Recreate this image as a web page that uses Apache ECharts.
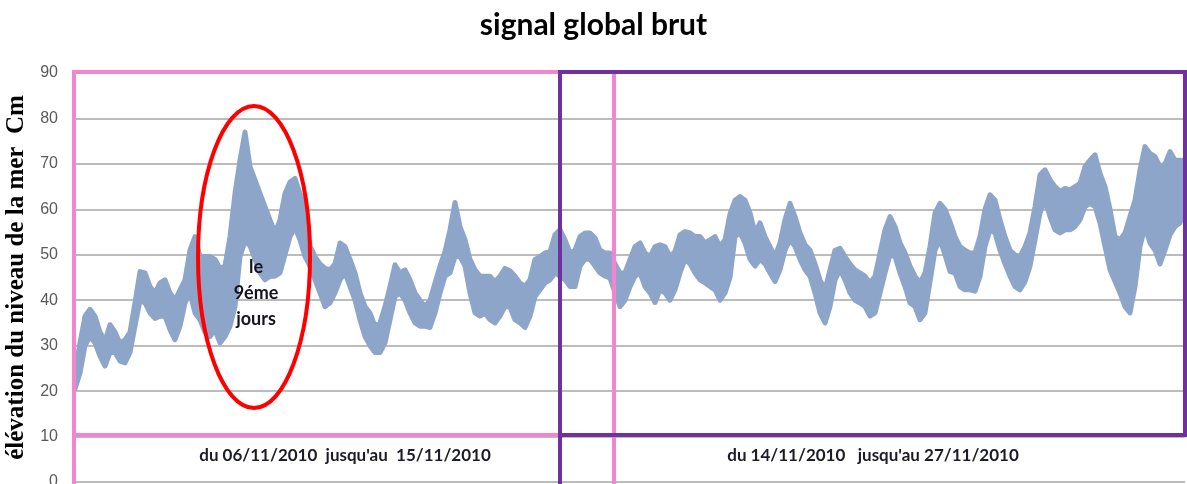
<!DOCTYPE html>
<html>
<head>
<meta charset="utf-8">
<script src="https://cdn.jsdelivr.net/npm/echarts@6/dist/echarts.min.js"></script>
<style>
  html, body { margin: 0; padding: 0; background: #fff; }
  #chart { width: 1187px; height: 484px; }
</style>
</head>
<body>
<div id="chart"></div>
<script>
// Sea-level elevation (cm): lower and upper envelope of the raw signal, one pair per sample
const lowValues = [
  20.5, 24, 30, 32, 30.6, 27.7, 25.5, 28.5, 28.5, 26.6,
  26.2, 28.5, 34.3, 40, 39.4, 37.2, 36, 36.5, 36.5, 33.5,
  31.3, 34.3, 39.4, 41.6, 37.2, 35.7, 33, 32, 33.5, 30.6,
  32, 34.3, 38.6, 49.6, 53, 52, 49, 46, 44.5, 45.3,
  45.3, 46, 50, 54, 56, 53.3, 49.6, 47.5, 44.5, 41.6,
  38.6, 39.4, 41.6, 44.5, 46, 43, 40, 35.7, 32, 30,
  28.5, 28.5, 30.6, 35.7, 40.8, 41.6, 40, 37.2, 35, 34.3,
  34.3, 34, 37.2, 41.6, 45.3, 46, 49.6, 49.6, 47.5, 41.6,
  37.2, 36.5, 37.2, 35.7, 35, 36.5, 38.6, 38.5, 35.7, 35,
  34, 36.5, 40.8, 42.3, 43.8, 44.5, 46, 45.3, 44.5, 43,
  43, 47.5, 49, 49, 47.5, 46, 45.3, 44.9, 41.6, 38.6,
  40, 43, 45.3, 46, 43, 41.6, 39.5, 42.3, 41.6, 40,
  42.3, 46, 49, 48, 46, 44.5, 43.8, 43, 42.3, 40,
  41.6, 45, 54, 54.8, 52.6, 49, 47.5, 49, 48, 46,
  44.1, 46.7, 51, 53.3, 51.8, 49, 46.7, 45.3, 41.6, 37.2,
  35, 38.6, 44.5, 46.7, 44.5, 41.6, 40, 39.4, 38.6, 36.5,
  37.2, 41.6, 46, 50, 49.6, 46, 43, 39.4, 38.6, 35.7,
  37.2, 44.1, 51, 53.3, 50, 46.3, 46, 43, 42.3, 42.3,
  42, 45.3, 51.8, 55.5, 54.8, 51, 48, 45.3, 43, 42.3,
  44.1, 47.5, 53.3, 59.2, 62, 58.4, 55.5, 54.8, 55.5, 55.5,
  56.2, 57.7, 60.6, 61.3, 60.6, 57, 51.8, 46.7, 44.1, 41.6,
  38.6, 37.2, 43, 51.8, 56.2, 52.6, 51, 48, 51, 54.4,
  56.2, 57, 60
];
const highValues = [
  24, 30.6, 36.5, 38, 36.5, 33, 31, 34.6, 33, 30.6,
  31.3, 33, 39.4, 46.3, 46, 43, 41.6, 43.8, 44.5, 41.6,
  40, 42.3, 44.5, 51, 54, 49.6, 49.6, 49.6, 49, 47,
  47.5, 54, 63.5, 70.8, 77, 69.4, 66.5, 63.5, 60.6, 57.7,
  54.8, 57.7, 63.5, 66, 66.8, 63.5, 60, 52, 49.6, 48,
  47, 46.7, 48, 52.6, 51.8, 49, 46, 41.6, 38.6, 37.2,
  34.3, 35, 38.6, 43, 47.8, 46, 46.7, 44.5, 41.6, 40,
  38.6, 40, 43.8, 47.5, 50.7, 55.5, 61.5, 56.2, 53.3, 49,
  46.7, 45.3, 45.3, 45.3, 44.1, 45.3, 47, 46.5, 45.3, 43.8,
  43, 44.5, 49, 49.6, 50.4, 50.7, 54.4, 55.5, 53.3, 50.4,
  51, 54, 54.8, 54.8, 53.7, 51, 50.4, 50.4, 48, 46,
  46, 49, 51.8, 52.6, 50.4, 49.6, 51.8, 52.2, 51.8, 49.6,
  50.7, 54.4, 55.1, 54.8, 54, 54, 52.6, 53.3, 54, 51.8,
  53.3, 59, 62, 62.8, 62, 59.2, 54.8, 57, 54, 51.8,
  49.6, 52.6, 57.7, 61.3, 58.4, 54.8, 52.2, 51, 48, 44.5,
  42.3, 46.7, 51, 51.4, 49.6, 48, 46.7, 46, 45.3, 43.8,
  45.3, 50.4, 55.5, 58.4, 56.2, 52.6, 50.4, 47.5, 45.3, 43.8,
  46, 51.8, 59.2, 61.3, 60, 57.3, 54, 51.8, 51, 50.4,
  50.4, 54, 60, 63.2, 62, 57.7, 54, 51, 50, 49.6,
  51.8, 54.8, 60.6, 67.6, 68.7, 66.5, 65, 63.9, 64.6, 64.3,
  65, 65.7, 69.4, 70.8, 72, 67.9, 65, 60, 54, 53.3,
  54.8, 58.4, 62, 68.7, 73.8, 72.3, 71.6, 69.4, 70, 72.7,
  70.8, 70.8, 70.8
];
const sampleIndex = lowValues.map((_, i) => i);
const yTicks = { min: 0, max: 90, step: 10 };

const bandColor = '#8ea5ca';
const pink = '#f384cf';
const purple = '#7030a0';

const chart = echarts.init(document.getElementById('chart'));
chart.setOption({
  animation: false,
  backgroundColor: '#ffffff',
  title: {
    text: 'signal global brut',
    left: 'center',
    top: 5,
    textStyle: { fontFamily: 'Lato', fontWeight: 'bold', fontSize: 30, color: '#000' }
  },
  grid: { left: 75, right: 2, top: 73, bottom: 2, containLabel: false, outerBoundsMode: 'none' },
  xAxis: {
    type: 'category',
    data: sampleIndex,
    boundaryGap: false,
    axisLine: { show: false },
    axisTick: { show: false },
    axisLabel: { show: false },
    splitLine: { show: false }
  },
  yAxis: {
    type: 'value',
    min: yTicks.min,
    max: yTicks.max,
    interval: yTicks.step,
    name: 'élévation du niveau de la mer  Cm',
    nameLocation: 'middle',
    nameGap: 40,
    nameRotate: 90,
    nameTextStyle: {
      fontFamily: 'Liberation Serif',
      fontWeight: 'bold',
      fontSize: 25,
      color: '#000'
    },
    axisLine: { show: false },
    axisTick: { show: false },
    axisLabel: { margin: 17, fontFamily: 'Liberation Sans', fontSize: 16, color: '#595959' },
    splitLine: { lineStyle: { color: '#a6a6a6', width: 1.5 } }
  },
  series: [
    {
      name: 'bas',
      type: 'line',
      stack: 'band',
      data: lowValues,
      symbol: 'none',
      lineStyle: { color: bandColor, width: 5, cap: 'round', join: 'round' },
      z: 2
    },
    {
      name: 'haut',
      type: 'line',
      stack: 'band',
      data: highValues.map((h, i) => +(h - lowValues[i]).toFixed(2)),
      symbol: 'none',
      lineStyle: { color: bandColor, width: 5, cap: 'round', join: 'round' },
      areaStyle: { color: bandColor, opacity: 1 },
      z: 2
    }
  ],
  graphic: [
    // first period box (pink)
    { type: 'rect', z: 100, shape: { x: 74, y: 72, width: 540, height: 363 },
      style: { fill: null, stroke: pink, lineWidth: 4 } },
    { type: 'line', z: 100, shape: { x1: 74, y1: 435, x2: 74, y2: 484 },
      style: { stroke: pink, lineWidth: 4 } },
    { type: 'line', z: 100, shape: { x1: 614, y1: 435, x2: 614, y2: 484 },
      style: { stroke: pink, lineWidth: 4 } },
    // second period box (purple)
    { type: 'rect', z: 101, shape: { x: 560, y: 72, width: 625, height: 363 },
      style: { fill: null, stroke: purple, lineWidth: 4 } },
    { type: 'line', z: 101, shape: { x1: 560, y1: 435, x2: 560, y2: 484 },
      style: { stroke: purple, lineWidth: 4 } },
    // highlighted day
    { type: 'ellipse', z: 102, shape: { cx: 254, cy: 257, rx: 56, ry: 151 },
      style: { fill: null, stroke: '#ff0000', lineWidth: 4 } },
    { type: 'text', z: 103, style: {
        x: 256, y: 293, text: 'le\n9éme\njours', align: 'center', verticalAlign: 'middle',
        fontFamily: 'Lato', fontWeight: 'bold', fontSize: 18, lineHeight: 26, fill: '#14141e' } },
    // period captions
    { type: 'text', z: 103, style: {
        x: 345, y: 456, text: 'du 06/11/2010  jusqu\'au  15/11/2010', align: 'center', verticalAlign: 'middle',
        fontFamily: 'Lato', fontWeight: 'bold', fontSize: 17, fill: '#1c1c28' } },
    { type: 'text', z: 103, style: {
        x: 873, y: 456, text: 'du 14/11/2010   jusqu\'au 27/11/2010', align: 'center', verticalAlign: 'middle',
        fontFamily: 'Lato', fontWeight: 'bold', fontSize: 17, fill: '#1c1c28' } }
  ]
});
</script>
</body>
</html>
